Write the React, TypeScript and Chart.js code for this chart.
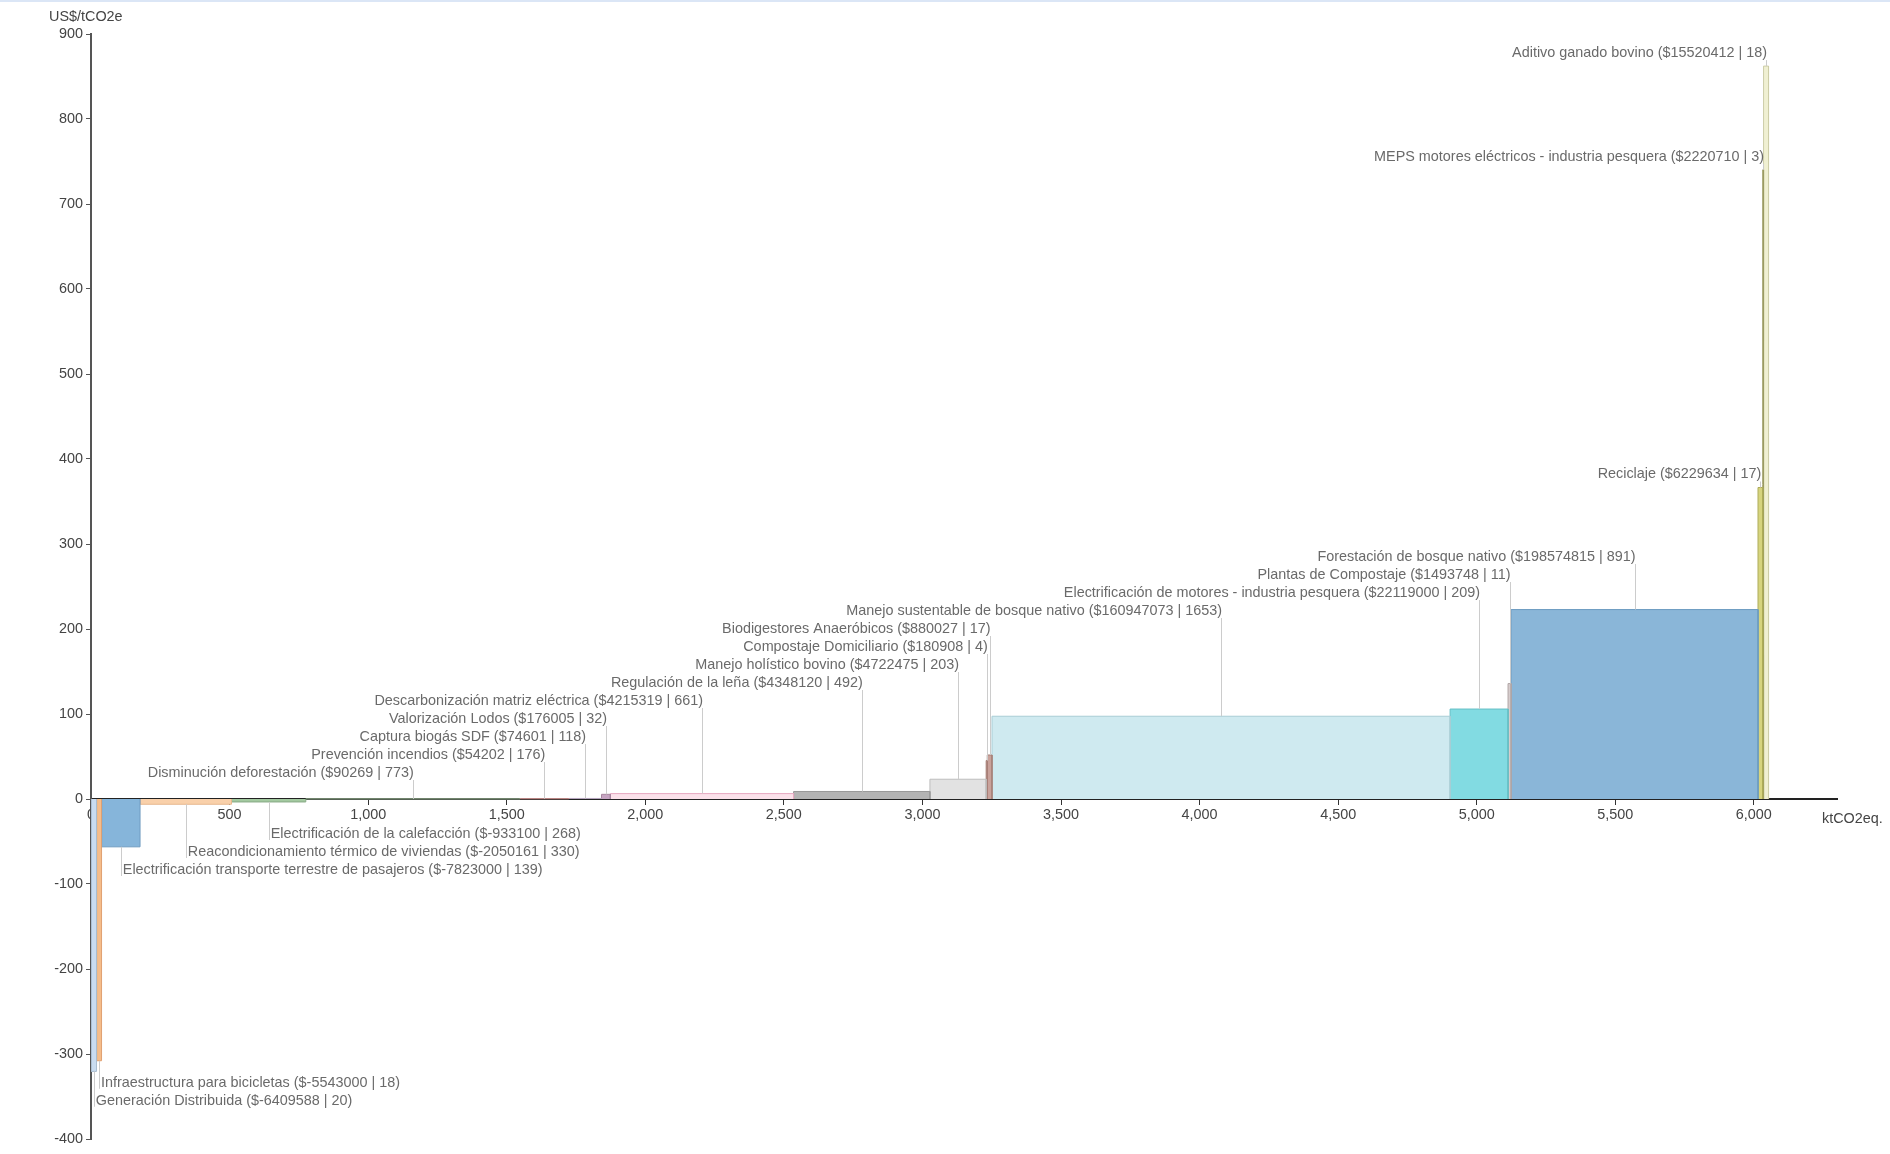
import React, { useEffect, useRef } from "react";
import { Chart, registerables } from "chart.js";

Chart.register(...registerables);

// Measures in merit order (left to right on the curve)
const measures: string[] = [
  "Generación Distribuida",
  "Infraestructura para bicicletas",
  "Electrificación transporte terrestre de pasajeros",
  "Reacondicionamiento térmico de viviendas",
  "Electrificación de la calefacción",
  "Disminución deforestación",
  "Prevención incendios",
  "Captura biogás SDF",
  "Valorización Lodos",
  "Descarbonización matriz eléctrica",
  "Regulación de la leña",
  "Manejo holístico bovino",
  "Compostaje Domiciliario",
  "Biodigestores Anaeróbicos",
  "Manejo sustentable de bosque nativo",
  "Electrificación de motores - industria pesquera",
  "Plantas de Compostaje",
  "Forestación de bosque nativo",
  "Reciclaje",
  "MEPS motores eléctricos - industria pesquera",
  "Aditivo ganado bovino",
];

// Total cost (US$) as printed in the labels
const totalCost: number[] = [
  -6409588, -5543000, -7823000, -2050161, -933100, 90269, 54202, 74601, 176005,
  4215319, 4348120, 4722475, 180908, 880027, 160947073, 22119000, 1493748,
  198574815, 6229634, 2220710, 15520412,
];

// Abatement (ktCO2eq) = bar width
const abatement: number[] = [
  20, 18, 139, 330, 268, 773, 176, 118, 32, 661, 492, 203, 4, 17, 1653, 209, 11,
  891, 17, 3, 18,
];

// Cost per tonne (US$/tCO2e) = bar height
const costPerTon: number[] = [
  -320.48, -307.94, -56.28, -6.21, -3.48, 0.117, 0.308, 0.632, 5.5, 6.377, 8.838,
  23.26, 45.23, 51.77, 97.37, 105.83, 135.8, 222.87, 366.45, 740.24, 862.25,
];

const fillColors: string[] = [
  "#c9dcf0", "#f5bd8b", "#86b5da", "#f9d0aa", "#a3c9a0", "#c7e6bf", "#f3b0ae",
  "#d8c8e0", "#c6a4c2", "#fbe1ea", "#b4b4b4", "#e2e2e2", "#c9a39c", "#c9a29b",
  "#cfeaf0", "#82dbe2", "#d6cccc", "#8ab6d8", "#d6d47e", "#b8b878", "#f0f0d2",
];

const borderColors: string[] = [
  "#a8bcd0", "#e0a070", "#6f9cc0", "#e8b890", "#86aa84", "#a6c6a0", "#d89896",
  "#b8a8c0", "#a8869f", "#e6aac2", "#9a9a9a", "#bdbdbd", "#a88078", "#a8827a",
  "#a9cdd6", "#66bfc6", "#b0a6a6", "#6d9cc2", "#aeac58", "#9a9a60", "#cdcda8",
];

// Axis ticks
const xTicks: number[] = [0, 500, 1000, 1500, 2000, 2500, 3000, 3500, 4000, 4500, 5000, 5500, 6000];
const yTicks: number[] = [-400, -300, -200, -100, 0, 100, 200, 300, 400, 500, 600, 700, 800, 900];

const X_MIN = 0;
const X_MAX = 6300;
const Y_MIN = -400;
const Y_MAX = 900;

const yAxisTitle = "US$/tCO2e";
const xAxisTitle = "ktCO2eq.";

const FONT_FAMILY = '"Liberation Sans", Arial, Helvetica, sans-serif';

export default function App() {
  const canvasRef = useRef<HTMLCanvasElement | null>(null);

  useEffect(() => {
    const canvas = canvasRef.current;
    if (!canvas) return;

    const starts: number[] = [];
    const ends: number[] = [];
    let acc = 0;
    abatement.forEach((a) => {
      starts.push(acc);
      acc += a;
      ends.push(acc);
    });

    const labelText = (i: number) =>
      `${measures[i]} ($${totalCost[i]} | ${abatement[i]})`;

    const datasets = measures.map((m, i) => ({
      label: m,
      data: [
        { x: starts[i], y: 0 },
        { x: starts[i], y: costPerTon[i] },
        { x: ends[i], y: costPerTon[i] },
        { x: ends[i], y: 0 },
      ],
      backgroundColor: fillColors[i],
      borderColor: borderColors[i],
      borderWidth: 1,
      pointRadius: 0,
      pointHoverRadius: 0,
      fill: "origin",
      tension: 0,
    }));

    const labelPlugin = {
      id: "maccLabels",
      afterDatasetsDraw(chart: any) {
        const { ctx, scales } = chart;
        const xs = scales.x;
        const ys = scales.y;
        const zero = ys.getPixelForValue(0);
        ctx.save();
        ctx.font = `14.4px ${FONT_FAMILY}`;
        ctx.textBaseline = "middle";
        ctx.lineWidth = 1;

        // positive measures: labels above, stacking upward
        let prev = zero - 8;
        for (let i = 0; i < measures.length; i++) {
          if (costPerTon[i] < 0) continue;
          const mid = xs.getPixelForValue((starts[i] + ends[i]) / 2);
          const top = ys.getPixelForValue(costPerTon[i]);
          const ly = Math.min(prev - 18, top - 13);
          prev = ly;
          const lx = Math.round(mid) + 0.5;
          ctx.strokeStyle = "#cccccc";
          ctx.beginPath();
          ctx.moveTo(lx, ly + 7);
          ctx.lineTo(lx, top);
          ctx.stroke();
          ctx.fillStyle = "#6a6a6a";
          ctx.textAlign = "right";
          ctx.fillText(labelText(i), mid + 1, ly);
        }

        // negative measures: labels below, stacking downward
        let prevN = zero + 17;
        for (let i = measures.length - 1; i >= 0; i--) {
          if (costPerTon[i] >= 0) continue;
          const mid = xs.getPixelForValue((starts[i] + ends[i]) / 2);
          const bottom = ys.getPixelForValue(costPerTon[i]);
          const ly = Math.max(prevN + 18, bottom + 22);
          prevN = ly;
          const lx = Math.round(mid) + 0.5;
          ctx.strokeStyle = "#cccccc";
          ctx.beginPath();
          ctx.moveTo(lx, bottom);
          ctx.lineTo(lx, ly + 6);
          ctx.stroke();
          ctx.fillStyle = "#6a6a6a";
          ctx.textAlign = "left";
          ctx.fillText(labelText(i), mid + 2, ly);
        }

        // axis titles
        ctx.fillStyle = "#444444";
        ctx.textAlign = "left";
        ctx.fillText(yAxisTitle, 49, 17);
        ctx.fillText(xAxisTitle, 1822, 819);
        ctx.restore();
      },
    };

    const chart = new Chart(canvas, {
      type: "line",
      data: { datasets: datasets as any },
      options: {
        animation: false,
        responsive: false,
        maintainAspectRatio: false,
        layout: { padding: { left: 0, right: 53, top: 34, bottom: 15 } },
        plugins: {
          legend: { display: false },
          tooltip: { enabled: false },
          title: { display: false },
        },
        elements: { line: { tension: 0 } },
        scales: {
          x: {
            type: "linear",
            min: X_MIN,
            max: X_MAX,
            position: { y: 0 } as any,
            afterBuildTicks: (scale: any) => {
              scale.ticks = xTicks.map((v) => ({ value: v }));
            },
            ticks: {
              autoSkip: false,
              color: "#444444",
              padding: 2,
              maxRotation: 0,
              font: { family: FONT_FAMILY, size: 14.4 },
            },
            grid: {
              drawOnChartArea: false,
              drawTicks: true,
              tickLength: 5,
              color: "#333333",
            },
            border: { display: true, color: "#222222", width: 2 },
          },
          y: {
            type: "linear",
            min: Y_MIN,
            max: Y_MAX,
            position: "left",
            afterFit: (scale: any) => {
              scale.width = 91;
            },
            afterBuildTicks: (scale: any) => {
              scale.ticks = yTicks.map((v) => ({ value: v }));
            },
            ticks: {
              autoSkip: false,
              color: "#444444",
              padding: 3,
              font: { family: FONT_FAMILY, size: 14.4 },
            },
            grid: {
              drawOnChartArea: false,
              drawTicks: true,
              tickLength: 5,
              color: "#555555",
            },
            border: { display: true, color: "#555555", width: 2 },
          },
        },
      },
      plugins: [labelPlugin],
    });

    return () => chart.destroy();
  }, []);

  return (
    <div
      style={{
        position: "absolute",
        left: 0,
        top: 0,
        width: 1890,
        height: 1154,
        background: "#ffffff",
        boxShadow: "inset 0 2px 0 #dbe6f6",
      }}
    >
      <canvas
        ref={canvasRef}
        width={1890}
        height={1154}
        style={{ display: "block", width: 1890, height: 1154 }}
      />
    </div>
  );
}
